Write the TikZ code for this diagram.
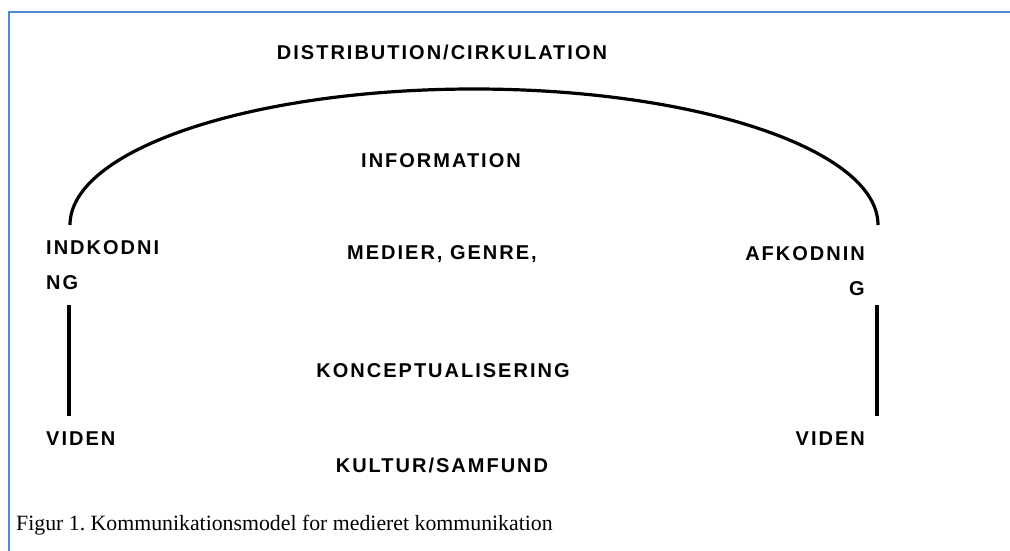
\documentclass[tikz,border=0pt]{standalone}
\usepackage{fontspec}
\setmainfont{Liberation Serif}
\newfontfamily\lblfont[LetterSpace=10]{Liberation Sans Bold}
\usetikzlibrary{positioning}
\definecolor{frameblue}{RGB}{79,137,210}
\frenchspacing

\begin{document}
\begin{tikzpicture}[
        x=1pt, y=-1pt,
        lbl/.style={font=\lblfont\fontsize{20}{35}\selectfont, inner sep=0pt},
        link/.style={line width=3.2pt},
        framebox/.style={draw=frameblue, line width=2.5pt},
        capt/.style={font=\fontsize{21.8}{24}\selectfont, inner sep=0pt}
    ]
        \useasboundingbox (0,0) rectangle (1010,551);
        \draw [framebox] (9,551) -- (9,12) -- (1010,12);

        \node (distr) [lbl, anchor=base] at (442,60) {DISTRIBUTION/CIRKULATION};
        \node (info) [lbl, anchor=base] at (441,167) {INFORMATION};
        \node (medier) [lbl, anchor=base] at (442,259) {MEDIER, GENRE,};
        \node (koncept) [lbl, anchor=base] at (443,377) {KONCEPTUALISERING};
        \node (kultur) [lbl, anchor=base] at (442,472) {KULTUR/SAMFUND};
        \node (indk) [lbl, anchor=north west, align=left] at (46,240) {INDKODNI\\NG};
        \node (afk) [lbl, anchor=north east, align=right] at (865,246) {AFKODNIN\\G};
        \node (vidL) [lbl, anchor=base west] at (46,445) {VIDEN};
        \node (vidR) [lbl, anchor=base east] at (865,445) {VIDEN};
        \node (fig) [capt, anchor=base west] at (16,530) {Figur 1. Kommunikationsmodel for medieret kommunikation};

        \coordinate (arcL) at (70,225);
        \coordinate (lineLtop) at (69,305);
        \coordinate (lineLbot) at (69,416);
        \coordinate (lineRtop) at (877,305);
        \coordinate (lineRbot) at (877,416);

        \draw [link] (arcL) arc[start angle=180, end angle=0, x radius=404pt, y radius=136pt];
        \draw [link] (lineLtop) -- (lineLbot);
        \draw [link] (lineRtop) -- (lineRbot);
    \end{tikzpicture}
\end{document}
